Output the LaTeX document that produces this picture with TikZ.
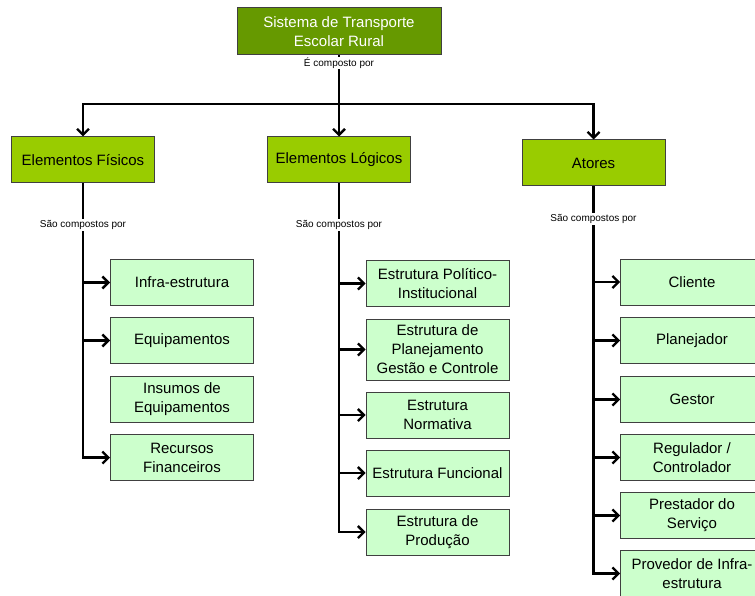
\documentclass[tikz,border=0pt]{standalone}
\usepackage{fontspec}
\setmainfont{Liberation Sans}
\usepackage{xcolor}
\usepackage{tikz}
\usetikzlibrary{arrows.meta,positioning,calc}

\definecolor{darkgreen}{HTML}{669900}
\definecolor{midgreen}{HTML}{99CC00}
\definecolor{lightgreen}{HTML}{CCFFCC}

\begin{document}
\begin{tikzpicture}[
  x=1pt, y=-1pt,
  box/.style={draw=black!75, line width=1pt, rectangle, inner sep=0pt, align=center, font=\fontsize{15}{19}\selectfont},
  sysbox/.style={box, fill=darkgreen, text=white, minimum width=204pt, minimum height=47pt},
  groupbox/.style={box, fill=midgreen, minimum width=143pt, minimum height=46pt},
  itembox/.style={box, fill=lightgreen, minimum width=143pt, minimum height=46pt},
  ptr/.style={-{Straight Barb[length=6pt,width=12pt,line width=2.3pt]}, line width=2.3pt},
  lbl/.style={fill=white, inner sep=1pt, font=\fontsize{10}{12}\selectfont}
]
\useasboundingbox (0,0) rectangle (755,596);
\clip (0,0) rectangle (755,596);
% top
\node[sysbox] (sys) at (339,31.5) {Sistema de Transporte\\Escolar Rural};
\node[groupbox] (fis) at (83,160) {Elementos Físicos};
\node[groupbox] (log) at (339,160) {Elementos Lógicos};
\node[groupbox] (ato) at (593.5,163) {Atores};
\coordinate (split) at (339,104);
\draw[ptr] (sys.south) -- (split) -| (fis.north);
\draw[ptr] (sys.south) -- (log.north);
\draw[ptr] (split) -| (ato.north);
\node[lbl] at (339,63) {É composto por};
% physical elements
\node[itembox] (f1) at (182,282.5) {Infra-estrutura};
\node[itembox] (f2) at (182,340.5) {Equipamentos};
\node[itembox] (f3) at (182,399.5) {Insumos de\\Equipamentos};
\node[itembox] (f4) at (182,457.5) {Recursos\\Financeiros};
\draw[ptr] (fis.south) |- (f1.west);
\draw[ptr] (fis.south) |- (f2.west);
\draw[ptr] (fis.south) |- (f4.west);
\node[lbl] at (83,225) {São compostos por};
% logical elements
\node[itembox] (l1) at (437.5,283.5) {Estrutura Político-\\Institucional};
\node[itembox, minimum height=61pt] (l2) at (437.5,349.5) {Estrutura de\\Planejamento\\Gestão e Controle};
\node[itembox] (l3) at (437.5,415) {Estrutura\\Normativa};
\node[itembox] (l4) at (437.5,473) {Estrutura Funcional};
\node[itembox] (l5) at (437.5,532) {Estrutura de\\Produção};
\foreach \n in {l1,l2,l3,l4,l5}
  \draw[ptr] (log.south) |- (\n.west);
\node[lbl] at (339,225) {São compostos por};
% actors
\node[itembox] (a1) at (692,282) {Cliente};
\node[itembox] (a2) at (692,340.5) {Planejador};
\node[itembox] (a3) at (692,399.5) {Gestor};
\node[itembox] (a4) at (692,457.5) {Regulador /\\Controlador};
\node[itembox] (a5) at (692,515.5) {Prestador do\\Serviço};
\node[itembox] (a6) at (692,573.5) {Provedor de Infra-\\estrutura};
\foreach \n in {a1,a2,a3,a4,a5,a6}
  \draw[ptr] (ato.south) |- (\n.west);
\node[lbl] at (593.5,219) {São compostos por};
\end{tikzpicture}
\end{document}
